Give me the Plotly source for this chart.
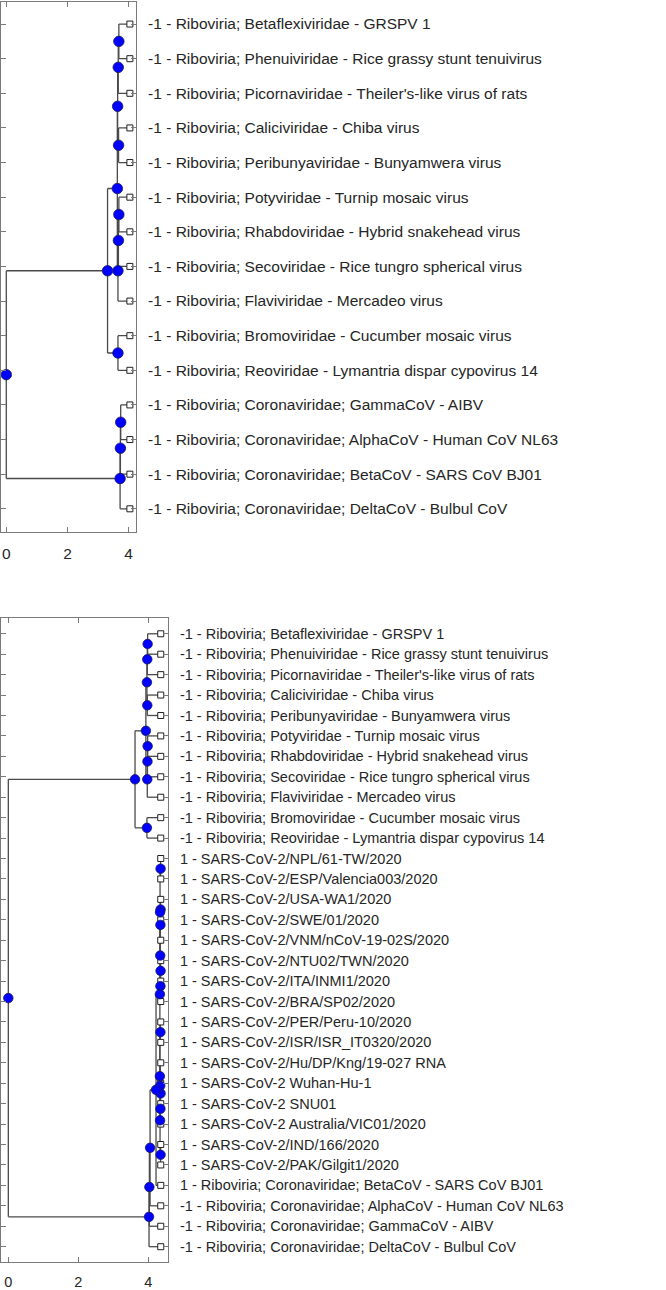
"""Two phylogenetic trees (MATLAB phytree look) redrawn with plotly."""

import plotly.graph_objects as go

# ---- data -----------------------------------------------------------------
RIBO_LABELS = [
    "-1 - Riboviria; Betaflexiviridae - GRSPV 1",
    "-1 - Riboviria; Phenuiviridae - Rice grassy stunt tenuivirus",
    "-1 - Riboviria; Picornaviridae - Theiler's-like virus of rats",
    "-1 - Riboviria; Caliciviridae - Chiba virus",
    "-1 - Riboviria; Peribunyaviridae - Bunyamwera virus",
    "-1 - Riboviria; Potyviridae - Turnip mosaic virus",
    "-1 - Riboviria; Rhabdoviridae - Hybrid snakehead virus",
    "-1 - Riboviria; Secoviridae - Rice tungro spherical virus",
    "-1 - Riboviria; Flaviviridae - Mercadeo virus",
    "-1 - Riboviria; Bromoviridae - Cucumber mosaic virus",
    "-1 - Riboviria; Reoviridae - Lymantria dispar cypovirus 14",
]

TOP_LABELS = RIBO_LABELS + [
    "-1 - Riboviria; Coronaviridae; GammaCoV - AIBV",
    "-1 - Riboviria; Coronaviridae; AlphaCoV - Human CoV NL63",
    "-1 - Riboviria; Coronaviridae; BetaCoV - SARS CoV BJ01",
    "-1 - Riboviria; Coronaviridae; DeltaCoV - Bulbul CoV",
]
TOP_LEAF_X = 4.04
# internal nodes, numbered after the leaves (15, 16, ...): children and height
TOP_CHILDREN = [
    [0, 1], [15, 2], [3, 4], [16, 17], [5, 6], [19, 7], [20, 8], [18, 21],
    [9, 10], [22, 23], [11, 12], [25, 13], [26, 14], [24, 27],
]
TOP_NODE_X = [
    3.68, 3.66, 3.67, 3.64, 3.68, 3.665, 3.65, 3.63,
    3.65, 3.31, 3.74, 3.73, 3.72, 0.0,
]

BOTTOM_LABELS = RIBO_LABELS + [
    "1 - SARS-CoV-2/NPL/61-TW/2020",
    "1 - SARS-CoV-2/ESP/Valencia003/2020",
    "1 - SARS-CoV-2/USA-WA1/2020",
    "1 - SARS-CoV-2/SWE/01/2020",
    "1 - SARS-CoV-2/VNM/nCoV-19-02S/2020",
    "1 - SARS-CoV-2/NTU02/TWN/2020",
    "1 - SARS-CoV-2/ITA/INMI1/2020",
    "1 - SARS-CoV-2/BRA/SP02/2020",
    "1 - SARS-CoV-2/PER/Peru-10/2020",
    "1 - SARS-CoV-2/ISR/ISR_IT0320/2020",
    "1 - SARS-CoV-2/Hu/DP/Kng/19-027 RNA",
    "1 - SARS-CoV-2 Wuhan-Hu-1",
    "1 - SARS-CoV-2 SNU01",
    "1 - SARS-CoV-2 Australia/VIC01/2020",
    "1 - SARS-CoV-2/IND/166/2020",
    "1 - SARS-CoV-2/PAK/Gilgit1/2020",
    "1 - Riboviria; Coronaviridae; BetaCoV - SARS CoV BJ01",
    "-1 - Riboviria; Coronaviridae; AlphaCoV - Human CoV NL63",
    "-1 - Riboviria; Coronaviridae; GammaCoV - AIBV",
    "-1 - Riboviria; Coronaviridae; DeltaCoV - Bulbul CoV",
]
BOTTOM_LEAF_X = 4.355
BOTTOM_CHILDREN = [
    # riboviria clade (nodes 31-40)
    [0, 1], [31, 2], [3, 4], [32, 33], [5, 6], [35, 7], [36, 8], [34, 37],
    [9, 10], [38, 39],
    # SARS-CoV-2 clade (nodes 41-55)
    [11, 12], [13, 14], [42, 15], [16, 17], [44, 18], [43, 45], [41, 46],
    [19, 20], [22, 23], [49, 24], [25, 26], [21, 50], [52, 51], [48, 53],
    [47, 54],
    # coronaviridae + root (nodes 56-60)
    [55, 27], [56, 28], [57, 29], [58, 30], [40, 59],
]
BOTTOM_NODE_X = [
    3.98, 3.97, 3.97, 3.96, 3.98, 3.975, 3.97, 3.93,
    3.96, 3.62,
    4.35, 4.35, 4.345, 4.35, 4.345, 4.34, 4.335,
    4.345, 4.35, 4.345, 4.35, 4.34, 4.335, 4.33,
    4.33,
    4.22, 4.05, 4.03, 4.02, 0.0,
]

TEXT = "#262626"
AXIS = "#7a7a7a"
BRANCH = "#4a4a4a"
FONT = "Liberation Sans, Arial, sans-serif"


def tree_layout(n_leaves, leaf_x, children, node_x):
    """Leaf i sits at y=i+1, an internal node halfway between its children."""
    xs = [leaf_x] * n_leaves + list(node_x)
    ys = [i + 1.0 for i in range(n_leaves)] + [0.0] * len(children)
    for k, (a, b) in enumerate(children):
        ys[n_leaves + k] = (ys[a] + ys[b]) / 2

    lx, ly = [], []
    for k, (a, b) in enumerate(children):
        node = n_leaves + k
        lx += [xs[node], xs[node], None]
        ly += [ys[a], ys[b], None]
        for c in (a, b):
            lx += [xs[node], xs[c], None]
            ly += [ys[c], ys[c], None]
    return xs, ys, lx, ly


def add_tree(fig, labels, leaf_x, children, node_x, xa, ya, circle):
    n = len(labels)
    xs, ys, lx, ly = tree_layout(n, leaf_x, children, node_x)
    fig.add_trace(go.Scatter(
        x=lx, y=ly, mode="lines", xaxis=xa, yaxis=ya,
        line=dict(color=BRANCH, width=1.3), hoverinfo="skip",
    ))
    fig.add_trace(go.Scatter(
        x=xs[:n], y=ys[:n], mode="markers", xaxis=xa, yaxis=ya,
        marker=dict(symbol="square", size=6, color="white",
                    line=dict(color="#202020", width=1)),
        text=labels, hoverinfo="text",
    ))
    fig.add_trace(go.Scatter(
        x=xs[n:], y=ys[n:], mode="markers", xaxis=xa, yaxis=ya,
        marker=dict(symbol="circle", size=circle, color="#0000ff",
                    line=dict(color="#1a1a5a", width=0.8)),
        hoverinfo="skip",
    ))


fig = go.Figure()
add_tree(fig, TOP_LABELS, TOP_LEAF_X, TOP_CHILDREN, TOP_NODE_X, "x", "y", 10.5)
add_tree(fig, BOTTOM_LABELS, BOTTOM_LEAF_X, BOTTOM_CHILDREN, BOTTOM_NODE_X,
         "x2", "y2", 9.5)


def x_axis(domain, rng, anchor, size):
    return dict(
        domain=domain, range=rng, anchor=anchor, automargin=False,
        tickvals=[0, 2, 4], ticks="inside", ticklen=5, tickcolor=AXIS,
        ticklabelstandoff=7,
        showline=True, linecolor=AXIS, linewidth=1, mirror="ticks",
        showgrid=False, zeroline=False,
        tickfont=dict(family=FONT, size=size, color=TEXT),
    )


def y_axis(domain, rng, anchor, labels, size):
    return dict(
        domain=domain, range=rng, anchor=anchor, side="right",
        automargin=False,
        tickvals=list(range(1, len(labels) + 1)), ticktext=labels,
        ticks="inside", ticklen=5, tickcolor=AXIS,
        ticklabelstandoff=8,
        showline=True, linecolor=AXIS, linewidth=1, mirror="ticks",
        showgrid=False, zeroline=False,
        tickfont=dict(family=FONT, size=size, color=TEXT),
    )


fig.update_layout(
    width=666, height=1290,
    margin=dict(l=0, r=0, t=0, b=0),
    paper_bgcolor="white", plot_bgcolor="white",
    showlegend=False,
    xaxis=x_axis([0.0015, 0.2042], [-0.173, 4.24], "y", 15.5),
    yaxis=y_axis([0.5876, 0.9988], [15.67, 0.35], "x", TOP_LABELS, 15.5),
    xaxis2=x_axis([0.0015, 0.2523], [-0.209, 4.563], "y2", 14.5),
    yaxis2=y_axis([0.0217, 0.5209], [31.75, 0.23], "x2", BOTTOM_LABELS, 14.5),
)

# the page's default body margin would push the figure 8px off its spot
fig.write_html(
    "out.html",
    config={"displayModeBar": False},
    post_script="document.body.style.margin = '0';",
)
